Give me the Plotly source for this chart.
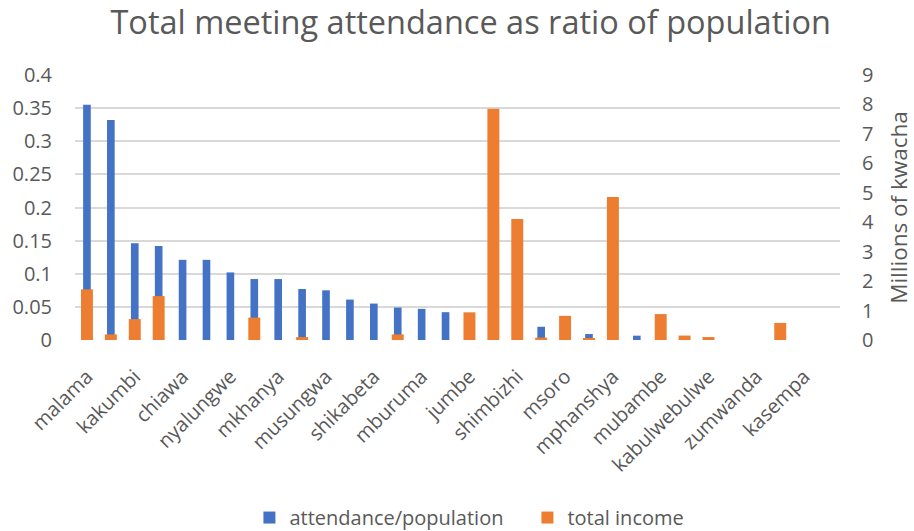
import plotly.graph_objects as go

# Chiefdoms, sorted by attendance ratio; only every other name is printed on the axis
tick_labels = [
    "malama", "kakumbi", "chiawa", "nyalungwe", "mkhanya", "musungwa",
    "shikabeta", "mburuma", "jumbe", "shimbizhi", "msoro", "mphanshya",
    "mubambe", "kabulwebulwe", "zumwanda", "kasempa",
]
positions = list(range(32))

attendance_ratio = [
    0.355, 0.332, 0.146, 0.142, 0.121, 0.121, 0.102, 0.092,
    0.092, 0.077, 0.075, 0.061, 0.055, 0.049, 0.047, 0.042,
    0.038, 0.032, 0.026, 0.020, 0.012, 0.009, 0.008, 0.0065,
    0.005, 0.0, 0.0, 0.0, 0.0, 0.0, 0.0, 0.0,
]
total_income_millions = [
    1.72, 0.19, 0.71, 1.49, 0.0, 0.0, 0.0, 0.76,
    0.0, 0.10, 0.0, 0.0, 0.0, 0.19, 0.0, 0.0,
    0.94, 7.85, 4.11, 0.08, 0.82, 0.07, 4.86, 0.0,
    0.88, 0.15, 0.10, 0.0, 0.0, 0.58, 0.0, 0.0,
]

left_ticks = [0, 0.05, 0.1, 0.15, 0.2, 0.25, 0.3, 0.35, 0.4]
left_tick_text = ["0", "0.05", "0.1", "0.15", "0.2", "0.25", "0.3", "0.35", "0.4"]
right_ticks = list(range(10))

FONT = "Open Sans"
GREY = "#595959"

fig = go.Figure()
fig.add_trace(go.Bar(
    x=positions, y=attendance_ratio, name="attendance/population",
    marker=dict(color="#4472C4", line=dict(width=0)), width=0.32,
    yaxis="y",
))
fig.add_trace(go.Bar(
    x=positions, y=total_income_millions, name="total income",
    marker=dict(color="#ED7D31", line=dict(width=0)), width=0.5,
    yaxis="y2",
))

fig.update_layout(
    width=914, height=531,
    margin=dict(l=75, r=74, t=75, b=191, autoexpand=False),
    paper_bgcolor="white", plot_bgcolor="white",
    barmode="overlay",
    font=dict(family=FONT, color=GREY, size=20),
    title=dict(
        text="Total meeting attendance as ratio of population",
        x=0.515, xanchor="center", y=0.958, yanchor="middle",
        font=dict(family=FONT, size=32.5, color=GREY),
    ),
    xaxis=dict(
        range=[-0.5, 31.5],
        tickmode="array", tickvals=positions[::2], ticktext=tick_labels,
        tickangle=-45, showgrid=False, zeroline=False,
        showline=False, ticks="", ticklabelstandoff=20,
        tickfont=dict(size=20, color=GREY),
    ),
    yaxis=dict(
        range=[0, 0.4], tickmode="array", tickvals=left_ticks, ticktext=left_tick_text,
        showgrid=True, gridcolor="#d9d9d9", gridwidth=2,
        zeroline=False, showline=False, ticks="",
        tickfont=dict(size=20, color=GREY), ticklabelstandoff=22,
    ),
    yaxis2=dict(
        range=[0, 9], tickmode="array", tickvals=right_ticks,
        overlaying="y", side="right", showgrid=False, zeroline=False,
        showline=False, ticks="",
        tickfont=dict(size=20, color=GREY), ticklabelstandoff=21,
        title=dict(text="Millions of kwacha", font=dict(size=22.5, color=GREY), standoff=36),
    ),
    legend=dict(
        orientation="h", x=0.228, xanchor="left", y=-0.67, yanchor="middle",
        font=dict(size=20, color=GREY), itemwidth=30, traceorder="normal",
        entrywidth=233,
    ),
    showlegend=True,
)

fig.write_html("out.html")
